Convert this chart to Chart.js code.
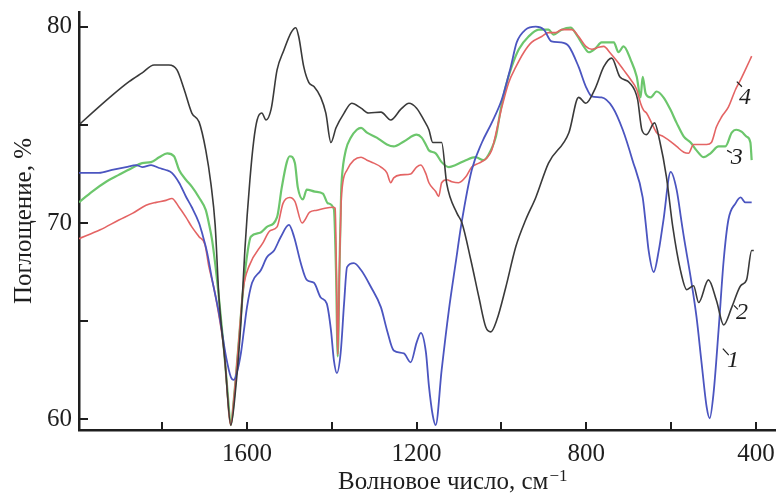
<!DOCTYPE html>
<html lang="ru">
<head>
<meta charset="utf-8">
<title>ИК-спектры</title>
<script src="https://cdn.jsdelivr.net/npm/chart.js@4.4.1/dist/chart.umd.min.js"></script>
<style>
  html, body { margin: 0; padding: 0; background: #fff; }
  #wrap { width: 777px; height: 493px; }
</style>
</head>
<body>
<div id="wrap"><canvas id="irChart" width="777" height="493"></canvas></div>
<script>

const BLUE = '#4b55c0';
const BLACK = '#3a3a3a';
const GREEN = '#6cc66c';
const RED = '#e46464';
const AXIS = '#1e1e1e';
const SERIF = '"Liberation Serif", "Times New Roman", serif';

// кривая 1 (синяя)
const wn1 = [1996, 1949, 1918, 1885, 1861, 1847, 1826, 1807, 1791, 1777, 1760, 1744, 1730, 1713, 1706, 1694, 1682, 1666, 1649, 1638, 1631, 1624, 1614, 1607, 1600, 1588, 1567, 1553, 1536, 1520, 1501, 1489, 1473, 1459, 1442, 1426, 1412, 1402, 1395, 1388, 1379, 1371, 1364, 1348, 1331, 1308, 1284, 1270, 1254, 1230, 1214, 1200, 1190, 1178, 1171, 1162, 1155, 1141, 1124, 1108, 1094, 1070, 1046, 1023, 999, 978, 964, 943, 919, 900, 882, 860, 841, 818, 801, 787, 764, 738, 714, 691, 667, 660, 653, 641, 629, 618, 601, 587, 575, 570, 554, 540, 528, 516, 509, 500, 488, 476, 465, 448, 436, 425, 410];
const abs1 = [72.55, 72.55, 72.7, 72.85, 72.95, 72.85, 72.95, 72.8, 72.7, 72.55, 72.05, 71.35, 70.8, 70.0, 69.5, 68.5, 67.1, 65.4, 63.15, 62.15, 62.0, 62.35, 63.4, 64.55, 65.7, 66.95, 67.6, 68.25, 68.6, 69.3, 69.9, 69.3, 67.95, 67.1, 66.95, 66.2, 65.9, 64.55, 63.0, 62.35, 63.4, 65.9, 67.75, 67.95, 67.6, 66.75, 65.7, 64.55, 63.5, 63.35, 62.9, 63.9, 64.4, 63.4, 61.7, 60.2, 59.7, 62.5, 65.55, 67.95, 70.0, 72.7, 74.1, 75.1, 76.3, 77.95, 79.2, 79.85, 80.0, 79.85, 79.25, 79.2, 79.0, 77.95, 76.95, 76.45, 76.4, 75.9, 74.75, 73.2, 71.3, 70.0, 68.6, 67.5, 68.6, 70.15, 72.6, 71.7, 70.0, 69.3, 67.25, 65.2, 62.85, 60.6, 60.05, 61.3, 64.55, 68.1, 70.15, 71.0, 71.3, 71.05, 71.05];

// кривая 2 (чёрная)
const wn2 = [1996, 1991, 1918, 1878, 1847, 1819, 1784, 1765, 1748, 1730, 1713, 1697, 1685, 1675, 1666, 1652, 1638, 1626, 1614, 1605, 1593, 1584, 1576, 1565, 1555, 1543, 1529, 1513, 1496, 1485, 1478, 1466, 1454, 1442, 1426, 1414, 1402, 1390, 1371, 1353, 1331, 1313, 1284, 1261, 1237, 1218, 1200, 1183, 1171, 1162, 1141, 1129, 1105, 1093, 1072, 1053, 1037, 1025, 1011, 990, 966, 943, 919, 889, 841, 818, 801, 778, 759, 740, 721, 698, 679, 669, 658, 639, 627, 611, 596, 578, 563, 547, 535, 512, 493, 476, 457, 436, 422, 410, 405];
const abs2 = [75.0, 75.1, 76.5, 77.2, 77.65, 78.05, 78.05, 77.8, 76.8, 75.6, 75.15, 73.7, 72.0, 69.9, 66.2, 63.0, 59.7, 61.7, 65.0, 68.6, 72.2, 74.2, 75.25, 75.6, 75.25, 75.8, 77.8, 78.8, 79.7, 79.95, 79.5, 77.95, 77.15, 76.95, 76.4, 75.6, 74.1, 74.85, 75.6, 76.1, 75.85, 75.6, 75.65, 75.25, 75.8, 76.1, 75.85, 75.25, 74.75, 74.1, 74.1, 72.0, 70.5, 70.0, 68.1, 66.2, 64.7, 64.45, 65.05, 66.7, 68.8, 70.15, 71.3, 73.05, 74.6, 76.4, 76.1, 76.9, 77.95, 78.4, 77.45, 77.15, 76.3, 74.75, 74.5, 75.1, 74.2, 72.35, 69.8, 67.6, 66.6, 66.8, 65.95, 67.1, 66.05, 64.8, 65.7, 66.8, 67.1, 68.6, 68.6];

// кривая 3 (зелёная)
const wn3 = [1996, 1965, 1932, 1902, 1871, 1847, 1826, 1807, 1788, 1772, 1760, 1744, 1730, 1713, 1697, 1690, 1682, 1668, 1654, 1645, 1638, 1631, 1621, 1609, 1598, 1591, 1569, 1553, 1529, 1518, 1506, 1499, 1487, 1480, 1468, 1459, 1440, 1421, 1409, 1395, 1390, 1386, 1382, 1378, 1376, 1367, 1355, 1341, 1331, 1317, 1294, 1270, 1254, 1230, 1200, 1188, 1176, 1171, 1155, 1141, 1124, 1108, 1084, 1061, 1042, 1025, 1013, 1002, 990, 976, 959, 936, 912, 889, 877, 858, 837, 823, 806, 794, 778, 764, 735, 724, 712, 695, 681, 672, 667, 660, 648, 634, 618, 601, 587, 570, 554, 540, 523, 507, 488, 472, 457, 446, 434, 422, 413, 410];
const abs3 = [71.05, 71.6, 72.1, 72.45, 72.8, 73.05, 73.1, 73.35, 73.55, 73.4, 72.7, 72.2, 71.85, 71.3, 70.65, 70.0, 69.1, 66.6, 63.5, 61.2, 59.7, 61.0, 63.5, 66.6, 68.6, 69.3, 69.5, 69.8, 70.3, 71.8, 73.1, 73.4, 73.05, 71.8, 71.2, 71.7, 71.6, 71.5, 71.0, 70.7, 67.5, 63.2, 67.5, 71.5, 72.35, 73.7, 74.35, 74.75, 74.85, 74.6, 74.35, 74.0, 73.9, 74.15, 74.5, 74.35, 73.9, 73.7, 73.55, 73.1, 72.85, 72.95, 73.2, 73.35, 73.2, 73.7, 74.4, 75.75, 76.95, 77.95, 78.85, 79.5, 79.85, 79.85, 79.6, 79.85, 79.95, 79.6, 79.0, 78.7, 78.9, 79.2, 79.2, 78.7, 79.0, 78.3, 77.45, 76.4, 77.45, 76.6, 76.4, 76.7, 76.4, 75.75, 75.1, 74.4, 74.1, 73.7, 73.35, 73.55, 73.9, 73.9, 74.6, 74.75, 74.65, 74.4, 74.1, 73.2];

// кривая 4 (красная)
const wn4 = [1996, 1946, 1902, 1869, 1838, 1814, 1791, 1777, 1760, 1744, 1730, 1713, 1699, 1690, 1678, 1671, 1654, 1638, 1631, 1621, 1609, 1595, 1562, 1546, 1529, 1515, 1499, 1487, 1470, 1452, 1435, 1416, 1397, 1392, 1389, 1386, 1382, 1378, 1374, 1364, 1348, 1331, 1317, 1301, 1284, 1270, 1261, 1254, 1237, 1214, 1200, 1190, 1178, 1171, 1155, 1148, 1141, 1129, 1117, 1101, 1084, 1070, 1053, 1035, 1023, 1011, 999, 983, 966, 947, 929, 905, 889, 872, 858, 834, 818, 801, 787, 771, 759, 743, 724, 712, 695, 681, 672, 665, 658, 646, 634, 618, 601, 587, 570, 559, 547, 531, 516, 505, 493, 481, 465, 448, 436, 425, 410];
const abs4 = [69.2, 69.65, 70.15, 70.5, 70.9, 71.05, 71.15, 71.25, 70.8, 70.3, 69.8, 69.3, 68.9, 67.8, 66.7, 65.9, 63.5, 59.7, 61.0, 63.5, 66.6, 67.8, 69.0, 69.6, 69.8, 71.0, 71.3, 71.1, 70.0, 70.55, 70.65, 70.75, 70.8, 70.75, 67.5, 63.3, 67.5, 71.0, 72.05, 72.7, 73.2, 73.35, 73.2, 73.05, 72.85, 72.55, 72.05, 72.3, 72.45, 72.5, 72.85, 72.95, 72.5, 72.05, 71.6, 71.35, 72.05, 72.2, 72.1, 72.05, 72.35, 72.85, 73.05, 73.3, 73.7, 74.75, 75.9, 77.15, 77.95, 78.7, 79.2, 79.5, 79.7, 79.7, 79.85, 79.85, 79.5, 79.0, 78.85, 78.95, 79.0, 78.65, 78.15, 77.8, 77.3, 76.8, 76.1, 75.75, 75.6, 75.1, 74.6, 74.4, 74.15, 73.9, 73.6, 73.55, 74.0, 74.0, 74.0, 74.1, 74.9, 75.4, 75.9, 76.8, 77.3, 77.8, 78.5];

// деления осей
const xTicks = [1800, 1600, 1400, 1200, 1000, 800, 600, 400];
const xTickLabels = [1600, 1200, 800, 400];
const yTicks = [60, 65, 70, 75, 80];
const yTickLabels = [60, 70, 80];

// номера кривых и выноски (в координатах данных)
const tagText = ['1', '2', '3', '4'];
const tagWn = [454, 433, 445, 426];
const tagAbs = [63.0, 65.45, 73.35, 76.4];
const leadFromWn = [478, 452, 468, 445];
const leadFromAbs = [63.6, 65.8, 73.7, 77.2];
const leadToWn = [464, 442.5, 457, 433];
const leadToAbs = [63.27, 65.6, 73.57, 76.94];

function toPoints(wn, abs) {
  return wn.map((w, i) => ({ x: w, y: abs[i] }));
}

function lineSet(label, wn, abs, color, width) {
  return {
    label,
    data: toPoints(wn, abs),
    borderColor: color,
    borderWidth: width,
    pointRadius: 0,
    fill: false,
    cubicInterpolationMode: 'monotone',
  };
}

// рамка области построения задаётся жёстко, без запаса под подписи
function noPad(s) {
  s.paddingTop = 0;
  s.paddingBottom = 0;
  s.paddingLeft = 0;
  s.paddingRight = 0;
}

const framePlugin = {
  id: 'frame',
  afterDraw(chart) {
    const { ctx, chartArea: area, scales: { x, y } } = chart;
    ctx.save();

    // засечки внутрь
    ctx.strokeStyle = AXIS;
    ctx.lineWidth = 2;
    ctx.beginPath();
    xTicks.forEach(v => {
      const px = Math.round(x.getPixelForValue(v));
      ctx.moveTo(px, area.bottom);
      ctx.lineTo(px, area.bottom - 8);
    });
    yTicks.forEach(v => {
      const py = Math.round(y.getPixelForValue(v));
      ctx.moveTo(area.left, py);
      ctx.lineTo(area.left + 9, py);
    });
    ctx.stroke();

    // номера кривых
    ctx.lineWidth = 1.2;
    ctx.fillStyle = AXIS;
    ctx.font = 'italic 24px ' + SERIF;
    ctx.textAlign = 'center';
    ctx.textBaseline = 'middle';
    tagText.forEach((t, i) => {
      ctx.beginPath();
      ctx.moveTo(x.getPixelForValue(leadFromWn[i]), y.getPixelForValue(leadFromAbs[i]));
      ctx.lineTo(x.getPixelForValue(leadToWn[i]), y.getPixelForValue(leadToAbs[i]));
      ctx.stroke();
      ctx.fillText(t, x.getPixelForValue(tagWn[i]), y.getPixelForValue(tagAbs[i]));
    });

    // подписи осей
    ctx.font = '25px ' + SERIF;
    ctx.textAlign = 'center';
    ctx.textBaseline = 'middle';
    ctx.save();
    ctx.translate(24, (area.top + area.bottom) / 2);
    ctx.rotate(-Math.PI / 2);
    ctx.fillText('Поглощение, %', 0, 0);
    ctx.restore();

    ctx.textAlign = 'left';
    ctx.textBaseline = 'alphabetic';
    const main = 'Волновое число, см';
    const left = 338;
    ctx.fillText(main, left, 489);
    const w = ctx.measureText(main).width;
    ctx.font = '17px ' + SERIF;
    ctx.fillText('\u22121', left + w + 1, 481);

    ctx.restore();
  }
};

new Chart(document.getElementById('irChart'), {
  type: 'line',
  data: {
    datasets: [
      lineSet('2', wn2, abs2, BLACK, 1.6),
      lineSet('1', wn1, abs1, BLUE, 1.8),
      lineSet('4', wn4, abs4, RED, 1.6),
      lineSet('3', wn3, abs3, GREEN, 2.2),
    ],
  },
  options: {
    responsive: false,
    animation: false,
    devicePixelRatio: 1,
    layout: { padding: { top: 12, right: 2, left: 0, bottom: 0 } },
    plugins: { legend: { display: false }, tooltip: { enabled: false } },
    scales: {
      x: {
        type: 'linear',
        reverse: true,
        min: 355,
        max: 1996,
        afterFit: s => { s.height = 63; noPad(s); },
        afterBuildTicks: s => { s.ticks = xTicks.map(v => ({ value: v })); },
        grid: { display: false, drawTicks: false },
        border: { display: true, color: AXIS, width: 2.5 },
        ticks: {
          autoSkip: false,
          maxRotation: 0,
          padding: 9,
          color: AXIS,
          font: { family: SERIF, size: 25 },
          callback: v => xTickLabels.includes(v) ? String(v) : '',
        },
      },
      y: {
        min: 59.45,
        max: 80.75,
        afterFit: s => { s.width = 79; noPad(s); },
        afterBuildTicks: s => { s.ticks = yTicks.map(v => ({ value: v })); },
        grid: { display: false, drawTicks: false },
        border: { display: true, color: AXIS, width: 2.5 },
        ticks: {
          autoSkip: false,
          padding: 7,
          color: AXIS,
          font: { family: SERIF, size: 25 },
          callback: v => yTickLabels.includes(v) ? String(v) : '',
        },
      },
    },
  },
  plugins: [framePlugin],
});
</script>
</body>
</html>
